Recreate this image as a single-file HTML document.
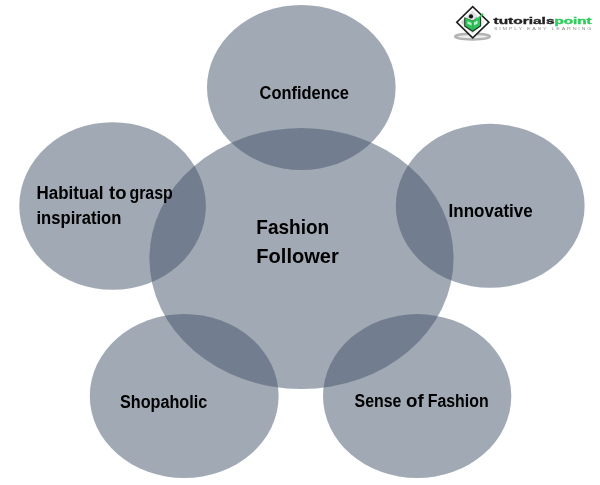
<!DOCTYPE html>
<html>
<head>
<meta charset="utf-8">
<title>Fashion Follower</title>
<style>
html,body{margin:0;padding:0;background:#fff;}
body{width:600px;height:485px;overflow:hidden;font-family:"Liberation Sans",sans-serif;}
svg{display:block;will-change:transform;}
text{font-family:"Liberation Sans",sans-serif;font-weight:bold;fill:#000000;}
</style>
</head>
<body>
<svg width="600" height="485" viewBox="0 0 600 485">
  <rect x="0" y="0" width="600" height="485" fill="#ffffff"/>
  <g fill="#44546a" fill-opacity="0.5">
    <ellipse cx="301.3" cy="87.5" rx="94.3" ry="82.5"/>
    <ellipse cx="112.6" cy="206" rx="93.3" ry="83.8"/>
    <ellipse cx="490.2" cy="205.8" rx="94.4" ry="82"/>
    <ellipse cx="184.2" cy="396" rx="94.4" ry="82"/>
    <ellipse cx="417.15" cy="396.1" rx="94.15" ry="82"/>
    <ellipse cx="301.5" cy="258.5" rx="152.1" ry="130.5"/>
  </g>
  <g font-size="18">
    <text x="259.58" y="98.5" textLength="89.40" lengthAdjust="spacingAndGlyphs">Confidence</text>
    <text x="36.61" y="199.4" textLength="66.75" lengthAdjust="spacingAndGlyphs">Habitual</text>
    <text x="109.11" y="199.4" textLength="17.47" lengthAdjust="spacingAndGlyphs">to</text>
    <text x="129.41" y="199.4" textLength="43.35" lengthAdjust="spacingAndGlyphs">grasp</text>
    <text x="36.50" y="224.4" textLength="84.89" lengthAdjust="spacingAndGlyphs">inspiration</text>
    <text x="448.57" y="217" textLength="84.16" lengthAdjust="spacingAndGlyphs">Innovative</text>
    <text x="119.96" y="407.6" textLength="87.22" lengthAdjust="spacingAndGlyphs">Shopaholic</text>
    <text x="354.56" y="407.1" textLength="46.89" lengthAdjust="spacingAndGlyphs">Sense</text>
    <text x="406.13" y="407.1" textLength="17.71" lengthAdjust="spacingAndGlyphs">of</text>
    <text x="427.75" y="407.1" textLength="60.91" lengthAdjust="spacingAndGlyphs">Fashion</text>
  </g>
  <g font-size="19.8">
    <text x="256.29" y="233.6" textLength="72.94" lengthAdjust="spacingAndGlyphs">Fashion</text>
    <text x="256.33" y="263.4" textLength="82.49" lengthAdjust="spacingAndGlyphs">Follower</text>
  </g>
  <!-- logo -->
  <g id="logo">
    <defs>
      <filter id="sb" x="-20%" y="-80%" width="140%" height="260%"><feGaussianBlur stdDeviation="0.55"/></filter>
      <linearGradient id="dg" x1="0" y1="0" x2="1" y2="0"><stop offset="0" stop-color="#cfcfcf"/><stop offset="1" stop-color="#f1f1f1"/></linearGradient>
    </defs>
    <ellipse cx="472.5" cy="36.6" rx="17.4" ry="2.9" fill="#ededed" stroke="#b4b4b4" stroke-width="2.4" filter="url(#sb)"/>
    <polygon points="472.7,5.6 490,22.3 472.7,38.9 455.6,22.3" fill="#1e1e1e"/>
    <polygon points="472.7,7.8 487.7,22.3 472.7,36.7 457.9,22.3" fill="#ffffff"/>
    <polygon points="472.7,10.4 485,22.3 472.7,34.1 460.6,22.3" fill="url(#dg)"/>
    <path d="M464.2 17.2 L469 19.2 L472.7 20.6 L476.4 18.6 L481.1 16.2 L481.1 26.2 L472.7 32.1 L464.2 26.6 Z" fill="#1d3a26"/>
    <path d="M465.3 17.8 L472.7 20.8 L480.1 17 L480.1 25.4 L472.7 30.6 L465.3 25.8 Z" fill="#2fc259"/>
    <path d="M467.4 21.3 L471.6 22.9 L471.6 25.6 L467.4 23.8 Z M474 22.6 L477.6 20.6 L477.6 23.6 L474 25.4 Z" fill="#b9efc9"/>
    <path d="M472.7 21 L472.7 30.4" stroke="#25a349" stroke-width="0.7" fill="none"/>
    <circle cx="471" cy="16.4" r="2.1" fill="#141414"/>
    <path d="M475.6 17.6 L477.4 19 L483.2 13.6" fill="none" stroke="#37c961" stroke-width="1.5" stroke-linejoin="round"/>
    <text x="493.5" y="23.5" font-size="9.6" textLength="61" lengthAdjust="spacingAndGlyphs" style="fill:#222222;stroke:#222222;stroke-width:0.35">tutorials</text>
    <text x="554.4" y="23.5" font-size="9.6" textLength="37.2" lengthAdjust="spacingAndGlyphs" style="fill:#2ecc5b;stroke:#2ecc5b;stroke-width:0.35">point</text>
    <text transform="translate(493.9,30) scale(1.7,1)" font-size="3.2" textLength="57.4" lengthAdjust="spacing" style="fill:#8f8f8f;font-weight:normal">SIMPLY EASY LEARNING</text>
  </g>
</svg>
</body>
</html>
